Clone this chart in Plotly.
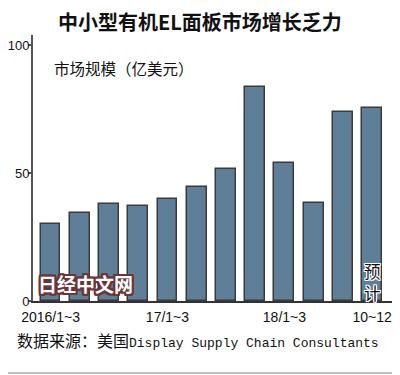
import plotly.graph_objects as go

categories = ["2016/1~3", "4~6", "7~9", "10~12", "17/1~3", "4~6", "7~9", "10~12",
              "18/1~3", "4~6", "7~9", "10~12"]
values = [30, 34.5, 38, 37, 40, 44.5, 51.5, 83.5, 54, 38.5, 74, 75.5]
tick_idx = [0, 4, 8, 11]
tick_labels = ["2016/1~3", "17/1~3", "18/1~3", "10~12"]
y_ticks = [0, 50, 100]

title = "中小型有机EL面板市场增长乏力"
subtitle = "市场规模（亿美元）"
source_cjk = "数据来源：美国"
source_latin = "Display Supply Chain Consultants"
watermark = "日经中文网"
forecast_lines = ["预", "计"]

# page body has an 8px margin; figure coords = screen coords - 8
OFF = 8
W, H = 400, 375
L, R, T, B = 33 - OFF, W - (392 - OFF), 35 - OFF, H - (301 - OFF)
pw, ph = W - L - R, H - T - B

def sx(p):
    return (p - OFF - L) / pw

def sy(p):
    return (H - B - (p - OFF)) / ph

x = list(range(len(categories)))

fig = go.Figure()
fig.add_trace(go.Bar(
    x=x, y=values, width=0.68,
    marker=dict(color="#5f7f99", line=dict(color="#3a3a3a", width=1.5)),
    hoverinfo="skip",
))

cjk = "Noto Sans CJK SC"
outline_red = ",".join(f"{dx}px {dy}px 0 #6b3535" for dx in (-2, -1, 0, 1, 2) for dy in (-2, -1, 0, 1, 2))
outline_white = ",".join(f"{dx}px {dy}px 0 #ffffff" for dx in (-1, 0, 1) for dy in (-1, 0, 1))

fig.update_layout(
    width=W, height=H, autosize=False,
    margin=dict(l=L, r=R, t=T, b=B, autoexpand=False),
    paper_bgcolor="white", plot_bgcolor="white",
    showlegend=False,
    bargap=0,
    xaxis=dict(
        range=[-0.6, 11.68], tickmode="array", tickvals=tick_idx, ticktext=tick_labels,
        showgrid=False, zeroline=False, showline=True, linecolor="#333", linewidth=2,
        ticks="", automargin=False, ticklabelstandoff=2,
        tickfont=dict(family="Liberation Sans", size=14, color="#111"),
    ),
    yaxis=dict(
        range=[0, 104], tickmode="array", tickvals=y_ticks,
        showgrid=False, zeroline=False, showline=True, linecolor="#555", linewidth=2,
        ticks="outside", ticklen=3, tickwidth=1.5, tickcolor="#555",
        ticklabelstandoff=-4, automargin=False,
        tickfont=dict(family="Liberation Sans", size=13, color="#111"),
    ),
    font=dict(family=cjk),
)

fig.add_annotation(xref="paper", yref="paper", x=sx(200), y=sy(21.5),
                   text=f"<b>{title}</b>", showarrow=False, xanchor="center", yanchor="middle",
                   font=dict(family=cjk, size=20, color="#111"))
fig.add_annotation(xref="paper", yref="paper", x=sx(52), y=sy(68),
                   text=subtitle, showarrow=False, xanchor="left", yanchor="middle",
                   font=dict(family=cjk, size=15.5, color="#111"))
fig.add_annotation(xref="paper", yref="paper", x=sx(15), y=sy(340),
                   text=f"{source_cjk}<span style=\"font-family:Liberation Mono;font-size:13px\">{source_latin}</span>",
                   showarrow=False, xanchor="left", yanchor="middle",
                   font=dict(family=cjk, size=16, color="#111"))
fig.add_annotation(xref="paper", yref="paper", x=sx(36), y=sy(283),
                   text=f"<b>{watermark}</b>", showarrow=False, xanchor="left", yanchor="middle",
                   font=dict(family=cjk, size=19, color="white", shadow=outline_red))
for ch, ypx in zip(forecast_lines, [271, 293]):
    fig.add_annotation(xref="x", yref="paper", x=11, y=sy(ypx),
                       text=ch, showarrow=False, xanchor="center", yanchor="middle",
                       font=dict(family=cjk, size=16.5, color="#111", shadow=outline_white))

# frame: right and bottom edges (left/top fall inside the page margin)
fig.add_shape(type="line", xref="paper", yref="paper",
              x0=sx(397.5), x1=sx(397.5), y0=sy(373), y1=sy(OFF),
              line=dict(color="#aaaaaa", width=1.5), layer="above")
fig.add_shape(type="line", xref="paper", yref="paper",
              x0=sx(OFF), x1=sx(397.5), y0=sy(373), y1=sy(373),
              line=dict(color="#aaaaaa", width=1.5), layer="above")

fig.write_html("out.html")
